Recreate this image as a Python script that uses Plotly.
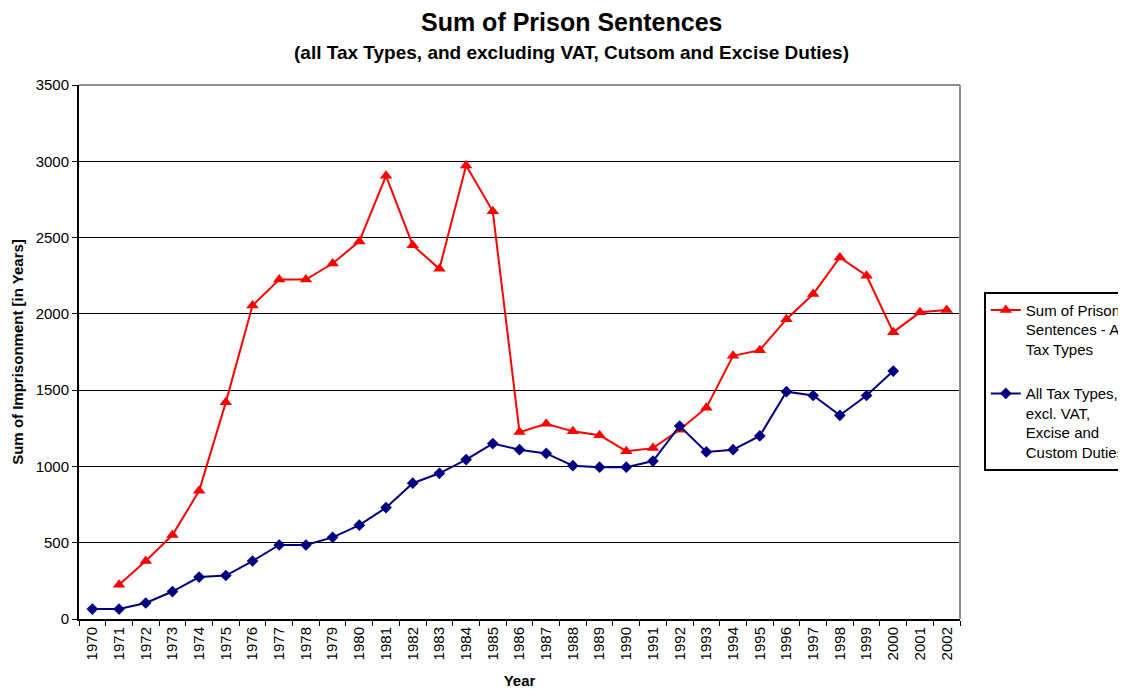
import plotly.graph_objects as go

years = [str(y) for y in range(1970, 2003)]

all_tax = [None, 225, 380, 550, 840, 1420, 2055, 2225, 2225, 2330, 2475,
           2905, 2450, 2295, 2972, 2672, 1225, 1280, 1230, 1205, 1100,
           1120, 1240, 1385, 1725, 1762, 1965, 2130, 2370, 2250, 1880,
           2010, 2025]

excl_vat = [65, 65, 105, 180, 275, 285, 380, 485, 485, 535, 615,
            730, 890, 955, 1045, 1150, 1110, 1085, 1005, 995, 995,
            1035, 1265, 1095, 1110, 1200, 1490, 1465, 1335, 1465, 1625,
            None, None]

y_ticks = [0, 500, 1000, 1500, 2000, 2500, 3000, 3500]

FONT = "Liberation Sans, Arial, sans-serif"

fig = go.Figure()
fig.add_trace(go.Scatter(
    x=years, y=all_tax, mode="lines+markers",
    name="Sum of Prison<br>Sentences - All<br>Tax Types",
    line=dict(color="#FF0000", width=2),
    marker=dict(symbol="triangle-up", size=11, color="#FF0000"),
    legendgroup="a",
))
fig.add_trace(go.Scatter(
    x=years, y=excl_vat, mode="lines+markers",
    name="All Tax Types,<br>excl. VAT,<br>Excise and<br>Custom Duties",
    line=dict(color="#000080", width=2),
    marker=dict(symbol="diamond", size=9, color="#000080"),
    legendgroup="b",
))

fig.update_layout(
    width=1118, height=681,
    margin=dict(l=71, r=166, t=77, b=70, autoexpand=False),
    paper_bgcolor="white", plot_bgcolor="white",
    font=dict(family=FONT, size=15, color="black"),
    showlegend=True,
    legend=dict(
        x=1.027, y=0.613, xanchor="left", yanchor="top",
        bordercolor="black", borderwidth=2, bgcolor="white",
        font=dict(family=FONT, size=15, color="black"),
        valign="top", traceorder="grouped", tracegroupgap=22,
        itemwidth=30,
    ),
    xaxis=dict(
        type="category", categoryorder="array", categoryarray=years,
        range=[-0.5, 32.5], automargin=False,
        showline=True, linecolor="black", linewidth=2,
        ticks="outside", ticklen=5, tickcolor="black", tickwidth=1,
        tickson="boundaries", tickangle=-90,
        showgrid=False,
        tickfont=dict(family=FONT, size=15),
        title=dict(text="<b>Year</b>", font=dict(family=FONT, size=15), standoff=19),
    ),
    yaxis=dict(
        range=[0, 3500], tickvals=y_ticks, automargin=False,
        showline=True, linecolor="black", linewidth=2,
        ticks="outside", ticklen=5, tickcolor="black",
        showgrid=True, gridcolor="black", gridwidth=1,
        zeroline=False,
        tickfont=dict(family=FONT, size=15),
        title=dict(text="<b>Sum of Imprisonment [in Years]</b>",
                   font=dict(family=FONT, size=15), standoff=8),
    ),
    annotations=[
        dict(text="<b>Sum of Prison Sentences</b>", xref="paper", yref="paper",
             x=0.5585, y=1.0, yshift=63, xanchor="center", yanchor="middle",
             showarrow=False, font=dict(family=FONT, size=25, color="black")),
        dict(text="<b>(all Tax Types, and excluding VAT, Cutsom and Excise Duties)</b>",
             xref="paper", yref="paper",
             x=0.5585, y=1.0, yshift=33, xanchor="center", yanchor="middle",
             showarrow=False, font=dict(family=FONT, size=19, color="black")),
    ],
    shapes=[
        dict(type="line", xref="paper", yref="paper", x0=0, x1=1, y0=1, y1=1,
             line=dict(color="#909090", width=2)),
        dict(type="line", xref="paper", yref="paper", x0=1, x1=1, y0=0, y1=1,
             line=dict(color="#909090", width=2)),
    ],
)

fig.write_html("out.html")
